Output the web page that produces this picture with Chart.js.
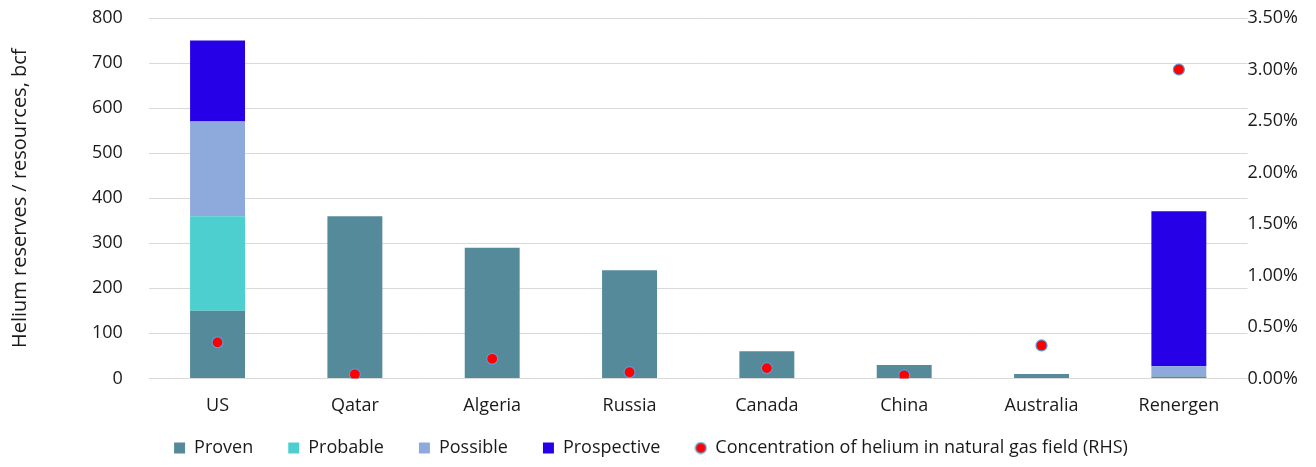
<!DOCTYPE html>
<html>
<head>
<meta charset="utf-8">
<script src="https://cdn.jsdelivr.net/npm/chart.js@4"></script>
<style>
  html, body { margin: 0; padding: 0; background: #fff; }
  #wrap { width: 1316px; height: 467px; }
</style>
</head>
<body>
<div id="wrap"><canvas id="helium"></canvas></div>
<script>
// data
var categories = ["US", "Qatar", "Algeria", "Russia", "Canada", "China", "Australia", "Renergen"];
var proven = [150, 360, 290, 240, 60, 30, 10, 4];
var probable = [210, 0, 0, 0, 0, 0, 0, 0];
var possible = [210, 0, 0, 0, 0, 0, 0, 23];
var prospective = [180, 0, 0, 0, 0, 0, 0, 344];
var concentration = [0.0035, 0.0004, 0.0019, 0.0006, 0.0010, 0.0003, 0.0032, 0.0300];

var FONT = "'Open Sans', 'Noto Sans', sans-serif";
var INK = "#1a1a1a";
var GRID = "#d9d9d9";

// small red dot used in the legend for the RHS series
function dotIcon() {
  var c = document.createElement("canvas");
  c.width = 13; c.height = 13;
  var g = c.getContext("2d");
  g.beginPath();
  g.arc(6.5, 6.5, 5.3, 0, Math.PI * 2);
  g.fillStyle = "#ff0000";
  g.fill();
  g.lineWidth = 1.4;
  g.strokeStyle = "#5b9bd5";
  g.stroke();
  return c;
}

function bar(label, data, color) {
  return {
    type: "bar", label: label, data: data, backgroundColor: color,
    borderWidth: 0, stack: "s", yAxisID: "y", order: 1,
    barPercentage: 0.8, categoryPercentage: 0.5, pointStyle: "rect"
  };
}

// let the plot run right up to the top padding, tick labels may overhang
function noTopPad(scale) { scale.paddingTop = 0; }

new Chart(document.getElementById("helium"), {
  data: {
    labels: categories,
    datasets: [
      bar("Proven", proven, "#558a9a"),
      bar("Probable", probable, "#4ecfcf"),
      bar("Possible", possible, "#8eaadc"),
      bar("Prospective", prospective, "#2600e6"),
      {
        type: "line", label: "Concentration of helium in natural gas field (RHS)",
        data: concentration, yAxisID: "y1", showLine: false, order: 0,
        pointRadius: 5.5, pointHoverRadius: 5.5, pointBackgroundColor: "#ff0000",
        pointBorderColor: "#5b9bd5", pointBorderWidth: 1.2,
        backgroundColor: "#ff0000", borderColor: "#5b9bd5",
        pointStyle: "circle"
      }
    ]
  },
  options: {
    responsive: true,
    maintainAspectRatio: false,
    animation: false,
    layout: { padding: { left: 4, right: 18, top: 18, bottom: 0 } },
    plugins: {
      tooltip: { enabled: false },
      legend: {
        position: "bottom",
        labels: {
          color: INK, font: { family: FONT, size: 18 },
          usePointStyle: true, boxHeight: 11, boxWidth: 11, padding: 8,
          sort: function (a, b) { return a.datasetIndex - b.datasetIndex; },
          generateLabels: function (chart) {
            var items = Chart.defaults.plugins.legend.labels.generateLabels(chart);
            items.forEach(function (it) {
              if (it.datasetIndex === 4) it.pointStyle = dotIcon();
              else it.text = it.text + "\u2003\u2002";
            });
            return items;
          }
        }
      }
    },
    scales: {
      x: {
        stacked: true,
        grid: { display: false },
        border: { display: false },
        afterFit: function (s) { s.height += 5; },
        ticks: { color: INK, font: { family: FONT, size: 18 }, padding: 9 }
      },
      y: {
        stacked: true, position: "left", min: 0, max: 800,
        afterFit: noTopPad,
        ticks: { stepSize: 100, color: INK, font: { family: FONT, size: 18 }, padding: 26 },
        grid: { color: GRID, drawTicks: false },
        border: { display: false },
        title: { display: true, text: "Helium reserves / resources, bcf", color: INK, font: { family: FONT, size: 20 }, padding: { bottom: 34 } }
      },
      y1: {
        position: "right", min: 0, max: 0.035,
        afterFit: noTopPad,
        ticks: {
          stepSize: 0.005, color: INK, font: { family: FONT, size: 18 }, padding: 0,
          callback: function (v) { return (v * 100).toFixed(2) + "%"; }
        },
        grid: { display: false, drawTicks: false },
        border: { display: false }
      }
    }
  }
});
</script>
</body>
</html>
